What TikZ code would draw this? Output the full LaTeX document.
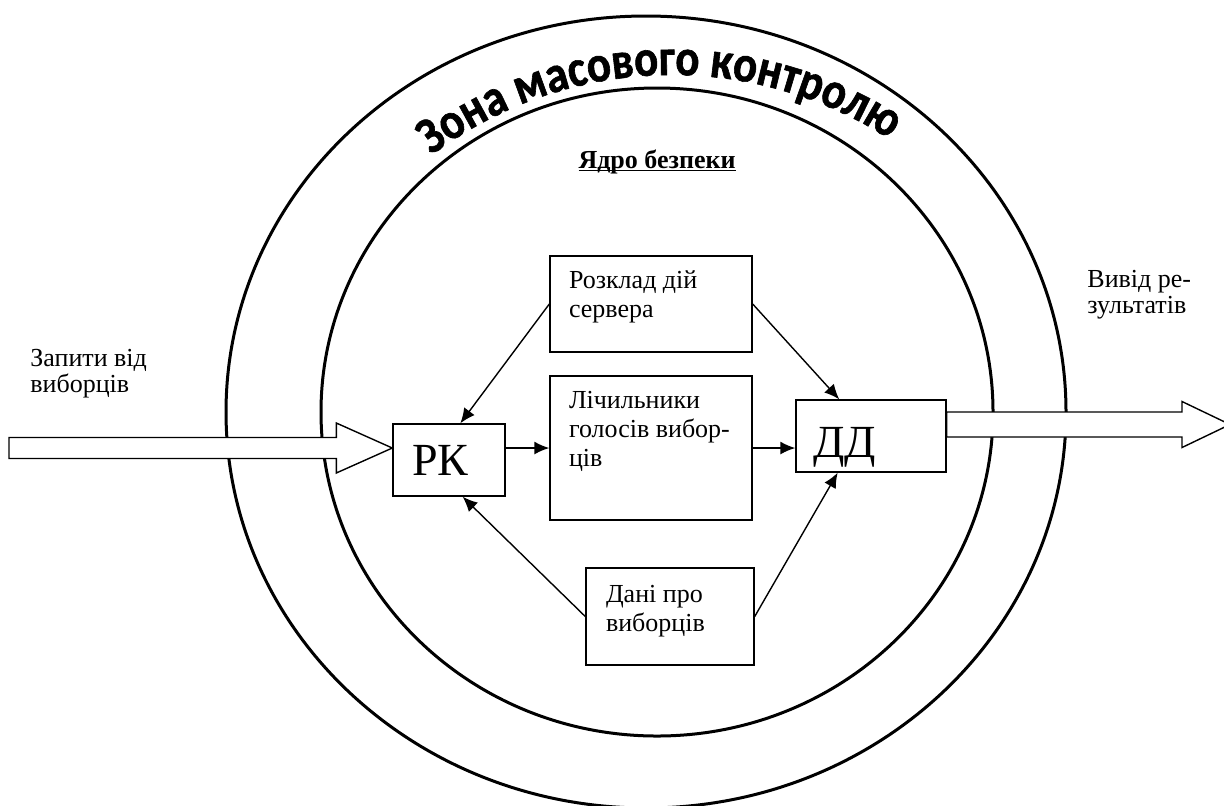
\documentclass[tikz,border=0pt]{standalone}
\usepackage{fontspec}
\setmainfont{Liberation Serif}
\newfontfamily\arcfont{Carlito}[FakeBold=1.2, FakeStretch=0.86]
\usetikzlibrary{arrows.meta,calc,decorations.text}
\newcommand{\boxtext}[3]{\parbox[c][#2][t]{#1}{\raggedright #3}}

\begin{document}
\begin{tikzpicture}[x=0.5pt, y=-0.5pt,
    ring/.style={line width=1.5pt},
    panel/.style={draw, line width=0.7pt, inner sep=0pt, fill=white},
    boxfont/.style={font=\fontsize{13}{14.5}\selectfont},
    outfont/.style={font=\fontsize{13}{13}\selectfont, align=left, anchor=north west, inner sep=0pt},
    bigfont/.style={font=\fontsize{23}{23}\selectfont, text depth=0pt, align=left},
    flow/.style={line width=0.7pt, -{Latex[length=7.5pt,width=6.5pt]}},
    fatarrow/.style={draw, line width=0.7pt, fill=white, line join=miter}]

    \useasboundingbox (0,0) rectangle (1224,805);

    % Zones
    \draw[ring] (646,412) ellipse [x radius=420, y radius=396];
    \draw[ring] (657,412) ellipse [x radius=336, y radius=324];

    \path[decorate, decoration={text along path, text align=center,
        text={|\arcfont\bfseries\fontsize{26}{26}\selectfont|Зона масового контролю}}]
      (672,475) ++(-128:400) arc[start angle=-128, end angle=-56, radius=400];

    \node[font=\bfseries\fontsize{13}{13}\selectfont, anchor=base] (core) at (657,168)
      {\underline{\smash{Ядро безпеки}}};

    % Blocks
    \node[panel, boxfont, minimum width=101pt, minimum height=48pt] (sched) at (651,304)
      {\boxtext{82pt}{33pt}{Розклад дій\\сервера}};
    \node[panel, boxfont, minimum width=101pt, minimum height=72pt] (cnt) at (651,448)
      {\boxtext{82pt}{57pt}{Лічильники\\голосів вибор-\\ців}};
    \node[panel, boxfont, minimum width=84pt, minimum height=48.5pt] (dan) at (670,616.5)
      {\boxtext{64pt}{31.5pt}{Дані про\\виборців}};
    \node[panel, bigfont, minimum width=56pt, minimum height=36pt, text width=37pt] (rk) at (449,460) {РК};
    \node[panel, bigfont, text height=21pt, minimum width=75pt, minimum height=36pt, text width=58pt] (dd) at (871,436) {ДД};

    % Links
    \draw[flow] (sched.west) -- ($(rk.north west)!0.6!(rk.north east)$);
    \draw[flow] (sched.east) -- ($(dd.north west)!0.29!(dd.north east)$);
    \draw[flow] (rk.east |- cnt.west) -- (cnt.west);
    \draw[flow] (cnt.east) -- (cnt.east -| dd.west);
    \draw[flow] (dan.west) -- ($(rk.south west)!0.62!(rk.south east)$);
    \draw[flow] (dan.east) -- ($(dd.south west)!0.28!(dd.south east)$);

    % Input and output
    \coordinate (inTail) at (9,448);
    \coordinate (inTip) at ([yshift=6pt]rk.west);
    \draw[fatarrow] ($(inTail)+(0,-10.5)$) -- ($(inTip)+(-56,-10.5)$) -- ($(inTip)+(-56,-25)$)
      -- (inTip) -- ($(inTip)+(-56,25)$) -- ($(inTip)+(-56,10.5)$) -- ($(inTail)+(0,10.5)$) -- cycle;
    \coordinate (outTail) at ([yshift=5.75pt]dd.east);
    \coordinate (outTip) at (1230,424.5);
    \draw[fatarrow] ($(outTail)+(0,-12.5)$) -- ($(outTip)+(-48,-12.5)$) -- ($(outTip)+(-48,-23)$)
      -- (outTip) -- ($(outTip)+(-48,23)$) -- ($(outTip)+(-48,12.5)$) -- ($(outTail)+(0,12.5)$) -- cycle;

    \node[outfont] (req) at (30,349) {Запити від\\виборців};
    \node[outfont] (res) at (1087,270) {Вивід ре-\\зультатів};
\end{tikzpicture}
\end{document}
